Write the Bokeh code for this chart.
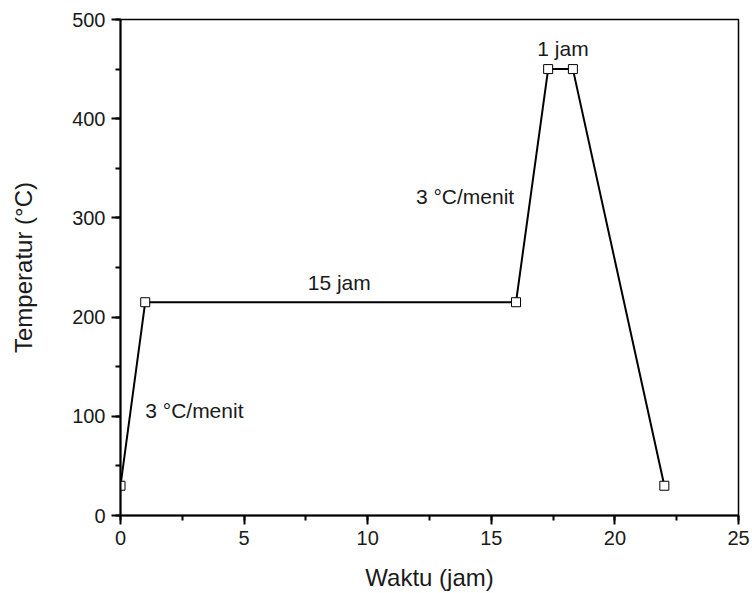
from bokeh.plotting import figure
from bokeh.models import Range1d, SingleIntervalTicker, ColumnDataSource
from bokeh.core.properties import value
from bokeh.embed import file_html
from bokeh.resources import INLINE

# Data
waktu = [0, 1, 16, 17.3, 18.3, 22]
temperatur = [30, 215, 215, 450, 450, 30]

ann_text = ["3 °C/menit", "15 jam", "3 °C/menit", "1 jam"]
ann_x = [1.0, 8.85, 11.95, 17.9]
ann_y = [106, 235, 322, 471]
ann_align = ["left", "center", "left", "center"]

x_title = "Waktu (jam)"
y_title = "Temperatur (°C)"

FONT = "Liberation Sans"
TXT = "#1a1a1a"

p = figure(width=752, height=593, output_backend="svg", toolbar_location=None,
           x_range=Range1d(0, 25), y_range=Range1d(0, 500),
           min_border_left=120, min_border_right=14, min_border_top=19, min_border_bottom=76,
           x_axis_label=x_title, y_axis_label=y_title)

p.xgrid.visible = False
p.ygrid.visible = False
p.outline_line_color = "black"
p.outline_line_width = 1.5
p.outline_line_alpha = 1.0

p.xaxis.ticker = SingleIntervalTicker(interval=5, num_minor_ticks=2)
p.yaxis.ticker = SingleIntervalTicker(interval=100, num_minor_ticks=2)

for ax in (p.xaxis, p.yaxis):
    ax.axis_line_width = 2
    ax.axis_line_color = "black"
    ax.major_tick_line_width = 2
    ax.minor_tick_line_width = 2
    ax.major_tick_in = 0
    ax.major_tick_out = 9
    ax.minor_tick_in = 0
    ax.minor_tick_out = 5
    ax.major_label_text_font = FONT
    ax.major_label_text_font_size = "20px"
    ax.major_label_text_color = TXT
    ax.axis_label_text_font = FONT
    ax.axis_label_text_font_size = "24px"
    ax.axis_label_text_font_style = "normal"
    ax.axis_label_text_color = TXT
    ax.major_label_standoff = 6

p.xaxis.axis_label_standoff = 16
p.yaxis.axis_label_standoff = 32

src = ColumnDataSource(dict(x=waktu, y=temperatur))
p.line("x", "y", source=src, line_color="black", line_width=2)
p.scatter("x", "y", source=src, marker="square", size=9, fill_color="white",
          line_color="black", line_width=1)

asrc = ColumnDataSource(dict(x=ann_x, y=ann_y, t=ann_text, a=ann_align))
p.text("x", "y", text="t", source=asrc, text_align="a", text_baseline="alphabetic",
       text_font=value(FONT), text_font_size="21px", text_color=TXT)

open("out.html", "w").write(file_html(p, INLINE))
